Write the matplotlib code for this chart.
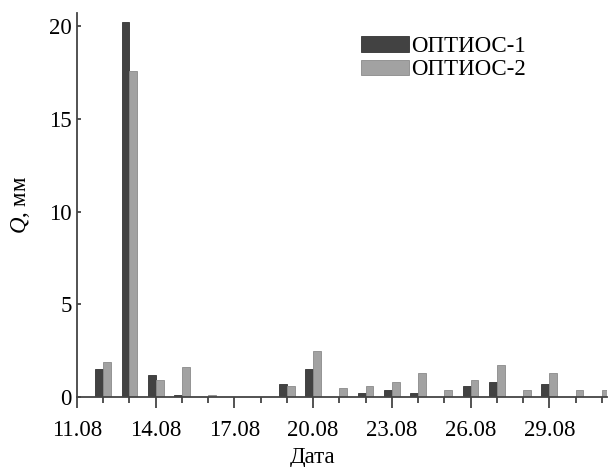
import numpy as np
import matplotlib.pyplot as plt

# days after 11.08 (11.08 itself is at position 0, no data)
days = np.arange(1, 21)
optios1 = [1.5, 20.2, 1.2, 0.1, 0.0, 0.0, 0.0, 0.7, 1.5, 0.0,
           0.2, 0.4, 0.2, 0.0, 0.6, 0.8, 0.0, 0.7, 0.0, 0.0]
optios2 = [1.9, 17.6, 0.9, 1.6, 0.1, 0.0, 0.0, 0.6, 2.5, 0.5,
           0.6, 0.8, 1.3, 0.4, 0.9, 1.7, 0.4, 1.3, 0.4, 0.4]
tick_labels = ["11.08", "14.08", "17.08", "20.08", "23.08", "26.08", "29.08"]

plt.rcParams["font.family"] = ["Liberation Serif", "DejaVu Serif"]
plt.rcParams["mathtext.fontset"] = "custom"
plt.rcParams["mathtext.it"] = "Liberation Serif:italic"
plt.rcParams["mathtext.rm"] = "Liberation Serif"

fs = 16.5
fig = plt.figure(figsize=(6.14, 4.67), dpi=100)
ax = fig.add_axes([0.1254, 0.15, 0.8632, 0.822])

w = 0.3
ax.bar(days - w / 2, optios1, width=w, color="#424242", edgecolor="#333333",
       linewidth=0.6, label="ОПТИОС-1")
ax.bar(days + w / 2, optios2, width=w, color="#a2a2a2", edgecolor="#8a8a8a",
       linewidth=0.6, label="ОПТИОС-2")

ax.set_xlim(0, 20.2)
ax.set_ylim(0, 20.7)
ax.set_xticks(np.arange(0, 21, 3))
ax.set_xticklabels(tick_labels)
ax.set_xticks(np.arange(0, 21, 1), minor=True)
ax.set_yticks([0, 5, 10, 15, 20])

for s in ["top", "right"]:
    ax.spines[s].set_visible(False)
for s in ["left", "bottom"]:
    ax.spines[s].set_color("#444444")
    ax.spines[s].set_linewidth(1.3)

ax.tick_params(axis="x", which="major", direction="out", length=8, width=1.3,
               color="#444444", labelsize=fs, pad=8.5)
ax.tick_params(axis="x", which="minor", direction="out", length=4.3, width=1.3,
               color="#444444")
ax.tick_params(axis="y", direction="in", length=3, width=1.3, color="#444444",
               labelsize=fs, pad=4)

ax.set_xlabel("Дата", fontsize=fs)
ax.xaxis.set_label_coords(0.445, -0.13)
ax.set_ylabel("$\\mathit{Q}$, мм", fontsize=fs)
ax.yaxis.set_label_coords(-0.085, 0.5)

ax.legend(loc="upper left", bbox_to_anchor=(361 / 614, 1 - 36 / 467),
          bbox_transform=fig.transFigure, frameon=False, fontsize=fs,
          borderpad=0, borderaxespad=0, handlelength=2.1, handleheight=0.65,
          handletextpad=0.1, labelspacing=0.1)

fig.savefig("out.png", dpi=100)
